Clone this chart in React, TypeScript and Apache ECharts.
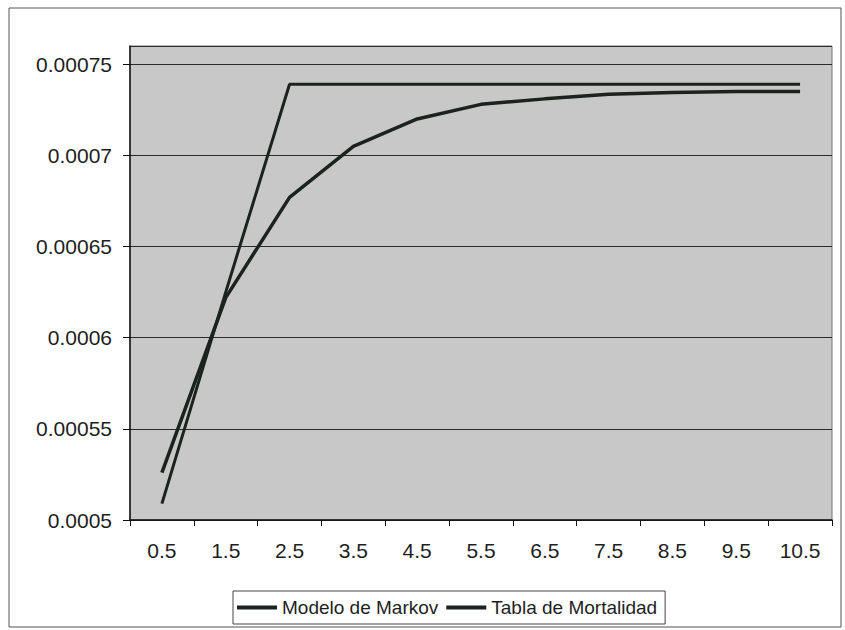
import React, { useEffect, useRef } from "react";
import * as echarts from "echarts";

const categories = ["0.5", "1.5", "2.5", "3.5", "4.5", "5.5", "6.5", "7.5", "8.5", "9.5", "10.5"];
const markov = [0.000526, 0.000622, 0.000677, 0.000705, 0.00072, 0.000728, 0.000731, 0.0007335, 0.0007345, 0.000735, 0.000735];
const tabla = [0.000509, 0.000625, 0.000739, 0.000739, 0.000739, 0.000739, 0.000739, 0.000739, 0.000739, 0.000739, 0.000739];
const seriesNames = ["Modelo de Markov", "Tabla de Mortalidad"];
const yMin = 0.0005;
const yMax = 0.00076;
const yStep = 0.00005;

const FONT = "'Liberation Sans', Arial, sans-serif";

export default function App() {
  const ref = useRef<HTMLDivElement>(null);
  useEffect(() => {
    if (!ref.current) return;
    const chart = echarts.init(ref.current, undefined, { renderer: "svg" });
    chart.setOption({
      animation: false,
      backgroundColor: "#ffffff",
      textStyle: { fontFamily: FONT },
      grid: {
        left: 130,
        right: 13,
        top: 46,
        bottom: 110,
        show: true,
        backgroundColor: "#c8c8c8",
        borderColor: "#777777",
        borderWidth: 1,
      },
      graphic: [
        {
          type: "rect",
          shape: { x: 9, y: 8, width: 832, height: 619 },
          style: { fill: "none", stroke: "#555555", lineWidth: 1 },
          silent: true,
          z: -10,
        },
      ],
      legend: {
        data: seriesNames,
        left: 233,
        top: 591,
        orient: "horizontal",
        padding: [7, 8, 7, 4],
        itemGap: 8,
        itemWidth: 40,
        itemHeight: 4,
        icon: "rect",
        borderColor: "#444444",
        borderWidth: 1,
        textStyle: { fontFamily: FONT, fontSize: 19, color: "#1e1e1e" },
      },
      xAxis: {
        type: "category",
        data: categories,
        boundaryGap: true,
        axisLine: { show: true, lineStyle: { color: "#111111", width: 1.5 } },
        axisTick: { show: true, length: 6, alignWithLabel: false, lineStyle: { color: "#111111" } },
        axisLabel: { fontFamily: FONT, fontSize: 21, color: "#1e1e1e", margin: 20, interval: 0 },
        splitLine: { show: false },
      },
      yAxis: {
        type: "value",
        min: yMin,
        max: yMax,
        interval: yStep,
        axisLine: { show: true, lineStyle: { color: "#111111", width: 1.5 } },
        axisTick: { show: true, inside: false, length: 7, lineStyle: { color: "#111111" } },
        axisLabel: {
          fontFamily: FONT,
          fontSize: 21,
          color: "#1e1e1e",
          margin: 18,
          showMaxLabel: false,
          formatter: (v: number) => (Math.abs(v - yMax) < 1e-9 ? "" : String(parseFloat(v.toFixed(7)))),
        },
        splitLine: { show: true, lineStyle: { color: "#2a2a2a", width: 1 } },
      },
      series: [
        {
          name: seriesNames[0],
          type: "line",
          data: markov,
          showSymbol: false,
          symbol: "none",
          lineStyle: { color: "#1b231e", width: 3.5 },
          itemStyle: { color: "#1b231e" },
        },
        {
          name: seriesNames[1],
          type: "line",
          data: tabla,
          showSymbol: false,
          symbol: "none",
          lineStyle: { color: "#1b231e", width: 3 },
          itemStyle: { color: "#1b231e" },
        },
      ],
    });
    return () => chart.dispose();
  }, []);
  return (
    <div
      ref={ref}
      style={{ position: "fixed", left: 0, top: 0, width: 845, height: 630 }}
    />
  );
}
